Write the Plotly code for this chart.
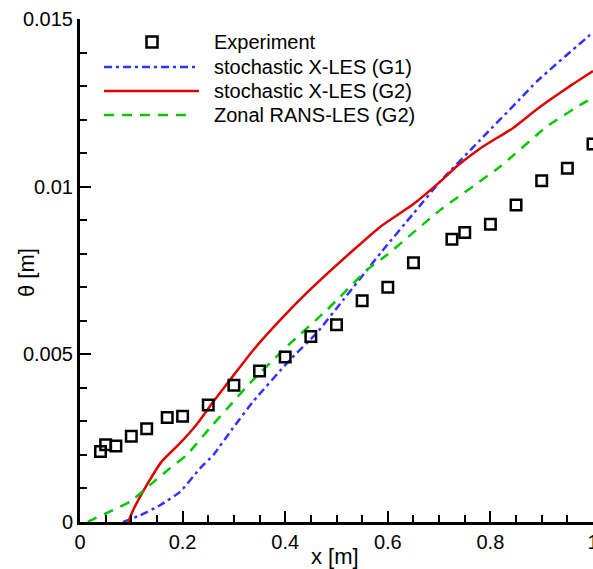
import plotly.graph_objects as go

# ---------------- data ----------------
exp_x = [0.04, 0.05, 0.07, 0.10, 0.13, 0.17, 0.20, 0.25, 0.30, 0.35, 0.40, 0.45,
         0.50, 0.55, 0.60, 0.65, 0.725, 0.75, 0.80, 0.85, 0.90, 0.95, 1.00]
exp_y = [0.0021, 0.0023, 0.00227, 0.00256, 0.00278, 0.00312, 0.00315, 0.00349,
         0.00408, 0.0045, 0.00492, 0.00553, 0.00588, 0.0066, 0.0070, 0.00773,
         0.00843, 0.00863, 0.00888, 0.00945, 0.01018, 0.01055, 0.01127]

g1_x = [0.084, 0.117, 0.156, 0.195, 0.234, 0.26, 0.298, 0.338, 0.409, 0.461,
        0.513, 0.588, 0.65, 0.702, 0.78, 0.858, 0.89, 0.994, 1.0]
g1_y = [0.0, 0.0002, 0.0005, 0.0009, 0.0016, 0.0020, 0.0028, 0.0036, 0.00483,
        0.00563, 0.00662, 0.00806, 0.0092, 0.01015, 0.01139, 0.01262, 0.01313,
        0.01452, 0.01458]

g2_x = [0.094, 0.105, 0.117, 0.130, 0.159, 0.195, 0.227, 0.26, 0.292, 0.338,
        0.39, 0.448, 0.533, 0.585, 0.65, 0.702, 0.734, 0.78, 0.845, 0.89,
        0.919, 0.96, 1.0]
g2_y = [0.0, 0.0004, 0.00075, 0.0011, 0.0018, 0.00235, 0.0029, 0.00359, 0.00423,
        0.00513, 0.00602, 0.00692, 0.00811, 0.0088, 0.00948, 0.01015, 0.0106,
        0.01114, 0.01176, 0.0123, 0.01262, 0.01305, 0.01345]

zonal_x = [0.015, 0.02, 0.058, 0.097, 0.136, 0.175, 0.208, 0.253, 0.302, 0.331,
           0.403, 0.481, 0.559, 0.598, 0.702, 0.819, 0.91, 0.981, 1.0]
zonal_y = [0.0, 0.00004, 0.00031, 0.0006, 0.0011, 0.0016, 0.0020, 0.0028, 0.00364,
           0.00414, 0.00523, 0.00632, 0.00751, 0.00796, 0.0093, 0.0106, 0.01179,
           0.01249, 0.01265]

x_tick_vals = [0, 0.2, 0.4, 0.6, 0.8, 1.0]
x_tick_text = ["0", "0.2", "0.4", "0.6", "0.8", "1"]
y_tick_vals = [0, 0.005, 0.01, 0.015]
y_tick_text = ["0", "0.005", "0.01", "0.015"]

names = ["Experiment", "stochastic X-LES (G1)", "stochastic X-LES (G2)",
         "Zonal RANS-LES (G2)"]

# ---------------- style ----------------
W, H = 593, 569
ML, MR, MT, MB = 80, 0, 19, 47
PW, PH = W - ML - MR, H - MT - MB
FONT = "Liberation Sans, Arial, Helvetica, sans-serif"
BLUE = "rgb(50,50,255)"
RED = "rgb(220,0,0)"
GREEN = "rgb(0,200,0)"
BLUE_DASH = "8px,4px,3px,4px"
GREEN_DASH = "10px,8px"


def px(xp):
    # screen pixel -> paper coordinate
    return (xp - ML) / PW


def py(yp):
    return (H - MB - yp) / PH


fig = go.Figure()
fig.add_trace(go.Scatter(x=g1_x, y=g1_y, mode="lines", name=names[1],
                         line=dict(color=BLUE, width=2.5, dash=BLUE_DASH,
                                   shape="spline", smoothing=0.5)))
fig.add_trace(go.Scatter(x=g2_x, y=g2_y, mode="lines", name=names[2],
                         line=dict(color=RED, width=2.5, shape="spline", smoothing=0.5)))
fig.add_trace(go.Scatter(x=zonal_x, y=zonal_y, mode="lines", name=names[3],
                         line=dict(color=GREEN, width=2.5, dash=GREEN_DASH,
                                   shape="spline", smoothing=0.5)))
fig.add_trace(go.Scatter(x=exp_x, y=exp_y, mode="markers", name=names[0],
                         marker=dict(symbol="square-open", size=10.5,
                                     color="black", line=dict(width=2.5, color="black")),
                         cliponaxis=False))

# ---------------- manual legend ----------------
shapes = []
annotations = []
rows_y = [42, 67, 91, 115]
shapes.append(dict(type="rect", xref="paper", yref="paper",
                   x0=px(146.5), x1=px(157.5), y0=py(47.5), y1=py(36.5),
                   line=dict(color="black", width=2.5)))
for yy, col, dash, x1, wd in [(rows_y[1], BLUE, BLUE_DASH, 198, 2.5),
                              (rows_y[2], RED, "solid", 199, 2.5),
                              (rows_y[3], GREEN, GREEN_DASH, 192, 2.5)]:
    shapes.append(dict(type="line", xref="paper", yref="paper",
                       x0=px(104), x1=px(x1), y0=py(yy), y1=py(yy),
                       line=dict(color=col, width=wd, dash=dash)))
for yy, nm in zip(rows_y, names):
    annotations.append(dict(xref="paper", yref="paper", x=px(212), y=py(yy),
                            text=nm, showarrow=False, xanchor="left", yanchor="middle",
                            font=dict(family=FONT, size=20, color="black")))

# axis titles
annotations.append(dict(xref="paper", yref="paper", x=px(335), y=py(556),
                        text="x [m]", showarrow=False, xanchor="center", yanchor="middle",
                        font=dict(family=FONT, size=22, color="black")))
annotations.append(dict(xref="paper", yref="paper", x=px(26), y=py(273),
                        text="θ [m]", showarrow=False, xanchor="center", yanchor="middle",
                        textangle=-90, font=dict(family=FONT, size=22, color="black")))

axis_common = dict(showgrid=False, zeroline=False, showline=True, linecolor="black",
                   linewidth=3, ticks="inside", ticklen=11, tickwidth=2,
                   tickcolor="black", mirror=False, ticklabeloverflow="allow",
                   tickfont=dict(family=FONT, size=20, color="black"))

fig.update_layout(
    width=W, height=H,
    margin=dict(l=ML, r=MR, t=MT, b=MB, autoexpand=False),
    paper_bgcolor="white", plot_bgcolor="white",
    showlegend=False,
    shapes=shapes, annotations=annotations,
    xaxis=dict(range=[0, 1], tickvals=x_tick_vals, ticktext=x_tick_text,
               minor=dict(dtick=0.05, ticks="inside", ticklen=7, tickwidth=1.5,
                          tickcolor="black", showgrid=False),
               **axis_common),
    yaxis=dict(range=[0, 0.015], tickvals=y_tick_vals, ticktext=y_tick_text,
               minor=dict(dtick=0.001, ticks="inside", ticklen=7, tickwidth=1.5,
                          tickcolor="black", showgrid=False),
               **axis_common),
)

# remove the default page margin so the figure fills the window exactly
fig.write_html(
    "out.html",
    config={"displayModeBar": False},
    post_script="document.body.style.margin='0';document.body.style.overflow='hidden';",
)
